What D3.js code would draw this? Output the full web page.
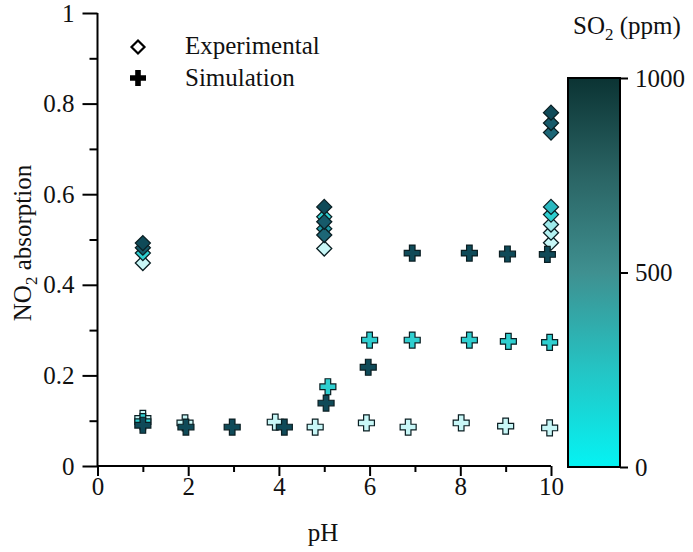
<!DOCTYPE html>
<html><head><meta charset="utf-8">
<script src="https://cdn.jsdelivr.net/npm/d3@7"></script>
<style>
html,body{margin:0;padding:0;background:#fff;}
svg{display:block;font-family:"Liberation Serif","Times New Roman",serif;}
</style></head>
<body><svg id="c" width="693" height="552"></svg>
<script>
// ---- data ----
const expPH  = [1,1,1,1, 5,5,5,5,5,5, 10,10,10,10,10,10,10,10];
const expNO2 = [0.448,0.470,0.482,0.492, 0.480,0.524,0.550,0.510,0.539,0.572, 0.493,0.515,0.533,0.555,0.572,0.736,0.757,0.780];
const expSO2 = [0,200,800,1000, 0,400,200,600,800,1000, 0,50,100,200,300,600,800,1000];

const simLowPH  = [1,1.93,3.92,4.8,5.93,6.85,8.02,9.0,9.97];
const simLowNO2 = [0.105,0.095,0.097,0.086,0.095,0.086,0.095,0.088,0.084];
const simMidPH  = [1,5.08,6.0,6.94,8.2,9.06,9.97];
const simMidNO2 = [0.098,0.175,0.278,0.278,0.278,0.275,0.273];
const simHighPH  = [1,1.95,2.97,4.12,5.04,5.97,6.94,8.2,9.04,9.92];
const simHighNO2 = [0.090,0.086,0.086,0.086,0.139,0.218,0.470,0.470,0.468,0.467];
const simSO2 = [0,200,1000];

const xTicks = [0,2,4,6,8,10];
const yTicks = [0,0.2,0.4,0.6,0.8,1];
const cbTicks = [0,500,1000];

// ---- scales ----
const svg = d3.select("#c");
const x = d3.scaleLinear().domain([0,10]).range([97.5,551]);
const y = d3.scaleLinear().domain([0,1]).range([466,13]);
const cbY = d3.scaleLinear().domain([0,1000]).range([467,78]);
const cmapDom = [0,250,500,750,1000];
const cmapRng = ["#05f3f3","#24c4c4","#3f9090","#2a6464","#0b3333"];
const markerColor = d3.scaleLinear()
  .domain([0,50,100,200,300,400,600,800,1000])
  .range(["#c8f7f7","#b4f2f2","#9eeaea","#2fcfd0","#2ab8c0","#1e98a4","#1c6676","#165a6a","#0f4a58"]);

const FS = 25;

// ---- axes ----
const gx = svg.append("g").attr("transform","translate(0,466)");
gx.call(d3.axisBottom(x).tickValues(d3.range(1,10,2)).tickSize(6).tickFormat(""));
gx.call(g=>g.select(".domain").remove());
const gx2 = svg.append("g").attr("transform","translate(0,466)");
gx2.call(d3.axisBottom(x).tickValues(xTicks).tickSize(10).tickPadding(1).tickFormat(d3.format("d")));
gx2.select(".domain").attr("d","M97.5,0H551");

const gy = svg.append("g").attr("transform","translate(97.5,0)");
gy.call(d3.axisLeft(y).tickValues(d3.range(0.1,1,0.2)).tickSize(8).tickFormat(""));
gy.call(g=>g.select(".domain").remove());
const gy2 = svg.append("g").attr("transform","translate(97.5,0)");
gy2.call(d3.axisLeft(y).tickValues(yTicks).tickSize(15).tickPadding(8).tickFormat(d=>d===0?"0":d===1?"1":d3.format(".1f")(d)));
gy2.select(".domain").attr("d","M0,466V13");

svg.selectAll(".tick line, .domain").attr("stroke","#000").attr("stroke-width",2);
svg.selectAll(".tick text").attr("font-size",FS).attr("font-family","Liberation Serif").attr("fill","#111");

// axis titles
svg.append("text").attr("x",323).attr("y",541).attr("text-anchor","middle")
  .attr("font-size",FS).attr("fill","#111").text("pH");
const yl = svg.append("text").attr("transform","translate(31,243) rotate(-90)")
  .attr("text-anchor","middle").attr("font-size",FS).attr("fill","#111");
yl.append("tspan").text("NO");
yl.append("tspan").attr("font-size",17).attr("dy",6).text("2");
yl.append("tspan").attr("dy",-6).text(" absorption");

// ---- markers ----
const diamond = s => `M0,${-s}L${s},0L0,${s}L${-s},0Z`;
const plus = (a,b) => `M${-b},${-a}H${b}V${-b}H${a}V${b}H${b}V${a}H${-b}V${b}H${-a}V${-b}H${-b}Z`;

svg.append("g").selectAll("path").data(expPH.map((p,i)=>({p,v:expNO2[i],c:expSO2[i]})))
  .join("path")
  .attr("d",diamond(7.5))
  .attr("transform",d=>`translate(${x(d.p)},${y(d.v)})`)
  .attr("fill",d=>markerColor(d.c)).attr("stroke","#0a1e22").attr("stroke-width",1.3);

const simSets = [[simLowPH,simLowNO2,simSO2[0]],[simMidPH,simMidNO2,simSO2[1]],[simHighPH,simHighNO2,simSO2[2]]];
simSets.forEach(([ph,no2,so2])=>{
  svg.append("g").selectAll("path").data(ph.map((p,i)=>({p,v:no2[i]})))
    .join("path")
    .attr("d",plus(8,2.8))
    .attr("transform",d=>`translate(${x(d.p)},${y(d.v)})`)
    .attr("fill",markerColor(so2)).attr("stroke","#0a1e22").attr("stroke-width",1.2);
});

// ---- legend ----
svg.append("path").attr("d",diamond(6.5)).attr("transform","translate(138,47)")
  .attr("fill","#fff").attr("stroke","#000").attr("stroke-width",2.2);
svg.append("text").attr("x",185).attr("y",54).attr("font-size",FS).attr("fill","#111").text("Experimental");
svg.append("path").attr("d",plus(8,2.8)).attr("transform","translate(138,78)")
  .attr("fill","#000");
svg.append("text").attr("x",185).attr("y",86).attr("font-size",FS).attr("fill","#111").text("Simulation");

// ---- colorbar ----
const defs = svg.append("defs");
const grad = defs.append("linearGradient").attr("id","cb").attr("x1",0).attr("y1",1).attr("x2",0).attr("y2",0);
cmapDom.forEach((d,i)=>grad.append("stop").attr("offset",d/1000).attr("stop-color",cmapRng[i]));
svg.append("rect").attr("x",568).attr("y",cbY(1000)).attr("width",52).attr("height",cbY(0)-cbY(1000))
  .attr("fill","url(#cb)").attr("stroke","#000").attr("stroke-width",2);
const gc = svg.append("g").attr("transform","translate(620,0)");
gc.call(d3.axisRight(cbY).tickValues(cbTicks).tickSize(8).tickPadding(7).tickFormat(d3.format("d")));
gc.select(".domain").remove();
gc.selectAll(".tick line").attr("stroke","#000").attr("stroke-width",2);
gc.selectAll(".tick text").attr("font-size",FS).attr("font-family","Liberation Serif").attr("fill","#111");

const st = svg.append("text").attr("x",573).attr("y",34).attr("font-size",FS).attr("fill","#111");
st.append("tspan").text("SO");
st.append("tspan").attr("font-size",17).attr("dy",6).text("2");
st.append("tspan").attr("dy",-6).text(" (ppm)");
</script></body></html>
